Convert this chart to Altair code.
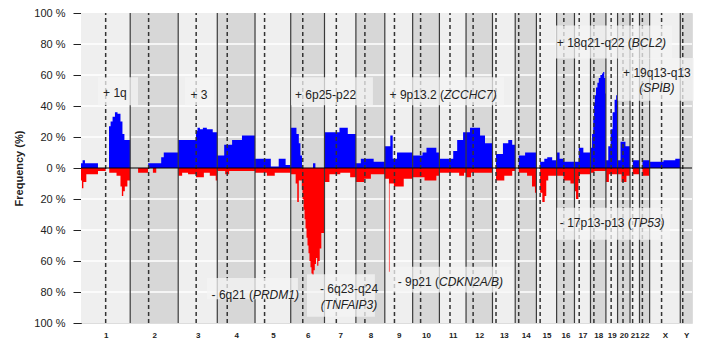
import altair as alt
import pandas as pd

# ---------------- data ----------------
CHROMS = ["1", "2", "3", "4", "5", "6", "7", "8", "9", "10", "11", "12",
          "13", "14", "15", "16", "17", "18", "19", "20", "21", "22", "X", "Y"]
CHROM_LEN = [249.3, 243.2, 198.0, 191.2, 180.9, 171.1, 159.1, 146.4, 141.2, 135.5,
             135.0, 133.9, 115.2, 107.3, 102.5, 90.4, 81.2, 78.1, 59.1, 63.0,
             48.1, 51.3, 155.3, 59.4]
CENTROMERE = [125.0, 93.3, 91.0, 50.4, 48.4, 61.0, 59.9, 45.6, 49.0, 40.2, 53.7,
              35.8, 17.9, 17.6, 19.0, 36.6, 24.0, 17.2, 26.5, 27.5, 13.2, 14.7,
              60.6, 12.5]

# gain frequency (%) per chromosome: (segment end in Mb, value)
GAIN = {
    "1": [(8, 3), (20, 5), (86, 3), (142, 0), (150, 27), (160, 30), (172, 33), (185, 36),
          (200, 35), (210, 30), (220, 22), (249.3, 18)],
    "2": [(91, 0), (157, 3), (170, 7), (243.2, 10)],
    "3": [(90, 18), (98, 24), (110, 26), (125, 25), (145, 26), (175, 25), (198.0, 23)],
    "4": [(35, 8), (75, 15), (125, 18), (191.2, 21)],
    "5": [(80, 6), (120, 1), (155, 6), (180.9, 2)],
    "6": [(29, 26), (41, 22), (49, 16), (57, 8), (113, 0), (125, 3), (171.1, 0)],
    "7": [(76, 23), (118, 26), (159.1, 22)],
    "8": [(25, 3), (90, 6), (146.4, 4)],
    "9": [(28, 14), (40, 21), (62, 6), (141.2, 10)],
    "10": [(50, 8), (70, 10), (120, 13), (135.5, 10)],
    "11": [(70, 6), (90, 11), (120, 18), (135.0, 23)],
    "12": [(20, 23), (71, 26), (96, 21), (133.9, 16)],
    "13": [(18, 0), (53, 9), (80, 16), (100, 18), (115.2, 15)],
    "14": [(18, 0), (50, 8), (107.3, 10)],
    "15": [(19, 0), (40, 4), (55, 6), (80, 7), (102.5, 5)],
    "16": [(15, 10), (35, 6), (90.4, 4)],
    "17": [(22, 4), (45, 13), (81.2, 10)],
    "18": [(8, 13), (14, 22), (18, 32), (22, 42), (28, 47), (35, 52), (42, 55), (50, 58),
           (58, 60), (64, 61), (70, 62), (75, 58), (78.1, 48)],
    "19": [(12, 5), (24, 14), (34, 25), (44, 36), (52, 44), (59.1, 47)],
    "20": [(15, 5), (40, 17), (63.0, 14)],
    "21": [(14, 0), (48.1, 5)],
    "22": [(15, 0), (51.3, 5)],
    "X": [(70, 4), (130, 5), (155.3, 6)],
    "Y": [(59.4, 0)],
}

# loss frequency (%) per chromosome: (segment end in Mb, value)
LOSS = {
    "1": [(5, 8), (12, 13), (27, 9), (86, 4), (125, 2), (143, 0), (180, 3), (200, 5),
          (207, 12), (214, 18), (222, 15), (235, 12), (249.3, 8)],
    "2": [(40, 0), (90, 3), (115, 0), (132, 3), (243.2, 0)],
    "3": [(20, 5), (50, 3), (90, 4), (130, 6), (160, 3), (190, 5), (198.0, 8)],
    "4": [(40, 2), (60, 4), (191.2, 2)],
    "5": [(60, 3), (100, 5), (180.9, 3)],
    "6": [(25, 4), (33, 10), (41, 22), (56, 8), (60, 14), (65, 20), (70, 27), (75, 33),
          (80, 39), (85, 45), (90, 50), (95, 55), (100, 60), (105, 64), (110, 68),
          (116, 69), (122, 66), (128, 62), (134, 58), (140, 63), (147, 60), (155, 52),
          (171.1, 42)],
    "7": [(25, 9), (80, 4), (130, 3), (159.1, 6)],
    "8": [(42, 9), (76, 7), (146.4, 4)],
    "9": [(21, 7), (24, 67), (46, 10), (96, 12), (141.2, 7)],
    "10": [(60, 6), (120, 8), (135.5, 5)],
    "11": [(100, 3), (125, 5), (135.0, 3)],
    "12": [(25, 6), (133.9, 3)],
    "13": [(18, 0), (60, 8), (100, 5), (115.2, 2)],
    "14": [(18, 0), (60, 3), (85, 5), (100, 12), (107.3, 16)],
    "15": [(19, 0), (30, 16), (42, 22), (50, 18), (60, 8), (102.5, 5)],
    "16": [(35, 5), (70, 8), (90.4, 10)],
    "17": [(8, 15), (20, 20), (25, 8), (81.2, 4)],
    "18": [(20, 3), (78.1, 2)],
    "19": [(15, 9), (59.1, 4)],
    "20": [(20, 4), (45, 9), (63.0, 5)],
    "21": [(14, 0), (48.1, 4)],
    "22": [(15, 0), (51.3, 5)],
    "X": [(155.3, 0)],
    "Y": [(59.4, 0)],
}

Y_TICKS = [-100, -80, -60, -40, -20, 0, 20, 40, 60, 80, 100]
GRID_Y = [-80, -60, -40, -20, 20, 40, 60, 80]

# annotation boxes (genome Mb, %)
BOX_X0 = [86, 527, 1064, 1545, 2401, 2720, 638, 1145, 1581, 2411]
BOX_X1 = [289, 674, 1479, 2143, 2994, 3126, 1099, 1489, 2189, 2984]
BOX_Y0 = [40.5, 40.5, 40.5, 40.5, 70.7, 43.4, -71.0, -68.5, -63.7, -25.7]
BOX_Y1 = [58.5, 58.5, 58.5, 58.5, 92.0, 71.0, -84.6, -96.0, -80.4, -46.3]

# annotation texts: text, x (Mb), y (%), alignment, style
LAB_TEXT = ["+ 1q", "+ 3", "+ 6p25-p22", "+ 9p13.2 (", "ZCCHC7)", "+ 18q21-q22 (", "BCL2)",
            "+ 19q13-q13", "(SPIB)", "- 6q21 (", "PRDM1)", "- 6q23-q24", "(TNFAIP3)",
            "- 9p21 (", "CDKN2A/B)", "- 17p13-p13 (", "TP53)"]
LAB_X = [172, 598, 1239, 1839, 1839, 2791, 2791, 2918, 2918, 871, 871, 1358, 1358,
         1814, 1814, 2791, 2791]
LAB_Y = [48.2, 47, 47, 47, 47, 80.7, 80.7, 61.6, 51.6, -81.7, -81.7, -78.1, -88.4,
         -73.4, -73.4, -35.4, -35.4]
LAB_KIND = ["cn", "cn", "cn", "rn", "li", "rn", "li", "cn", "ci", "rn", "li", "cn", "ci",
            "rn", "li", "rn", "li"]

# ---------------- build tables ----------------
offsets = []
acc = 0.0
for L in CHROM_LEN:
    offsets.append(acc)
    acc += L
TOTAL = acc

bands = pd.DataFrame({
    "start": offsets,
    "end": [o + L for o, L in zip(offsets, CHROM_LEN)],
    "fill": ["#efefef" if i % 2 == 0 else "#d7d7d7" for i in range(len(CHROMS))],
})
bounds = pd.DataFrame({"x": offsets[1:]})
cents = pd.DataFrame({"x": [o + c for o, c in zip(offsets, CENTROMERE)]})
centers = [round(o + L / 2, 2) for o, L in zip(offsets, CHROM_LEN)]


def profile(table, sign):
    xs, ys = [], []
    for ch, off in zip(CHROMS, offsets):
        start = 0.0
        for end, v in table[ch]:
            xs.append(off + start)
            ys.append(sign * v)
            start = end
    xs.append(TOTAL)
    ys.append(0)
    return pd.DataFrame({"pos": xs, "freq": ys})


gain_df = profile(GAIN, 1)
loss_df = profile(LOSS, -1)
grid_df = pd.DataFrame({"y": GRID_Y})
box_df = pd.DataFrame({"x0": BOX_X0, "x1": BOX_X1, "y0": BOX_Y0, "y1": BOX_Y1})
lab_df = pd.DataFrame({"text": LAB_TEXT, "x": LAB_X, "y": LAB_Y, "kind": LAB_KIND})

# x-axis label expression
expr = "'Y'"
for name, off, L in reversed(list(zip(CHROMS[:-1], offsets[:-1], CHROM_LEN[:-1]))):
    expr = f"datum.value < {off + L:.2f} ? '{name}' : ({expr})"

xscale = alt.Scale(domain=[0, TOTAL], nice=False, zero=False)
yscale = alt.Scale(domain=[-100, 100], nice=False)


def xq(field):
    return alt.X(field, scale=xscale)


def yq(field):
    return alt.Y(field, scale=yscale)


X = alt.X("start:Q", scale=xscale, axis=alt.Axis(
    values=centers, tickCount=len(centers), labelExpr=expr, title=None, domain=False,
    ticks=False, grid=False, labelFontSize=8, labelFontWeight="bold",
    labelColor="#222222", labelPadding=8, labelOverlap=False, labelBound=False,
    labelFlush=False, labelAngle=0))
Y = alt.Y("lo:Q", scale=yscale, axis=alt.Axis(
    values=Y_TICKS, tickCount=len(Y_TICKS), labelExpr="abs(datum.value) + ' %'",
    title="Frequency (%)",
    grid=False, tickSize=8, tickColor="#222222", domainColor="#222222",
    labelFontSize=11, labelColor="#222222", labelPadding=8, labelOverlap=False,
    labelBound=False, labelFlush=False,
    titleFontSize=11, titleFontWeight="bold", titleColor="#222222",
    titleX=-62, titleY=155, titleAngle=-90, titleBaseline="middle"))

band_layer = alt.Chart(bands).transform_calculate(lo="-100", hi="100").mark_rect().encode(
    x=X, x2="end:Q", y=Y, y2="hi:Q", color=alt.Color("fill:N", scale=None))

grid_layer = alt.Chart(grid_df).mark_rule(color="white", strokeWidth=1.5).encode(
    y=yq("y:Q"))

gain_layer = alt.Chart(gain_df).mark_area(interpolate="step-after", color="#0000ff").encode(
    x=xq("pos:Q"), y=yq("freq:Q"), y2=alt.datum(0))
loss_layer = alt.Chart(loss_df).mark_area(interpolate="step-after", color="#ff0000").encode(
    x=xq("pos:Q"), y=yq("freq:Q"), y2=alt.datum(0))

bound_layer = alt.Chart(bounds).mark_rule(color="#3a3a3a", strokeWidth=1.2).encode(
    x=xq("x:Q"), y=alt.datum(-100), y2=alt.datum(100))
cent_layer = alt.Chart(cents).mark_rule(color="#333333", strokeWidth=1.5,
                                       strokeDash=[4, 3]).encode(
    x=xq("x:Q"), y=alt.datum(-100), y2=alt.datum(100))

zero_layer = alt.Chart(pd.DataFrame({"y": [0]})).mark_rule(
    color="black", strokeWidth=1.2).encode(y=yq("y:Q"))

box_layer = alt.Chart(box_df).mark_rect(color="#f4f4f4", opacity=0.75, clip=False).encode(
    x=xq("x0:Q"), x2="x1:Q", y=yq("y0:Q"), y2="y1:Q")


def text_layer(kind, align, style):
    return alt.Chart(lab_df).transform_filter(f"datum.kind == '{kind}'").mark_text(
        align=align, baseline="middle", fontSize=12, fontStyle=style,
        color="#222222", clip=False).encode(
        x=xq("x:Q"), y=yq("y:Q"), text="text:N")


chart = alt.layer(
    band_layer, grid_layer, gain_layer, loss_layer, bound_layer, cent_layer,
    zero_layer, box_layer,
    text_layer("cn", "center", "normal"), text_layer("ci", "center", "italic"),
    text_layer("rn", "right", "normal"), text_layer("li", "left", "italic"),
).properties(
    width=611, height=310,
    autosize=alt.AutoSizeParams(type="none"),
    padding={"left": 73, "top": 5, "right": 2, "bottom": 16},
).configure_view(stroke=None).configure(font="Liberation Sans").configure_axis(
    labelOverlap=False, labelBound=False, labelFlush=False)

chart.save("out.html", embed_options={"renderer": "svg", "actions": False})
